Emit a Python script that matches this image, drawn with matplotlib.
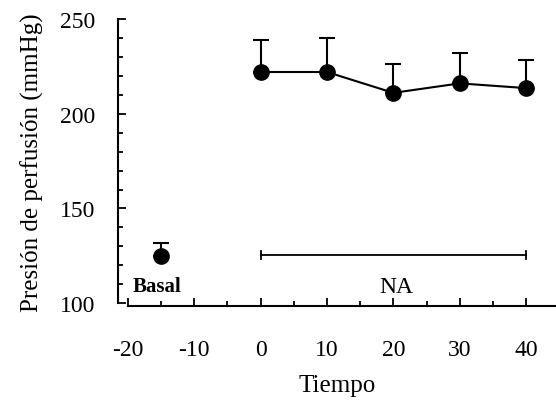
import matplotlib
matplotlib.use("Agg")
import matplotlib.pyplot as plt
from matplotlib.ticker import MultipleLocator

plt.rcParams['font.family'] = ['Liberation Serif', 'DejaVu Serif']
plt.rcParams['axes.unicode_minus'] = False

# datos
basal_t = [-15]
basal_p = [125]
basal_err = [7]

na_t = [0, 10, 20, 30, 40]
na_p = [222, 222, 211, 216, 213.5]
na_err = [17, 18, 15, 16, 15]

na_bar_y = 125.5

fig = plt.figure(figsize=(5.56, 4.1), dpi=100)
ax = fig.add_axes([0.212, 0.251, 0.788, 0.705])

ax.errorbar(basal_t, basal_p, yerr=[[0] * len(basal_err), basal_err],
            fmt='o', color='black', ms=11, elinewidth=1.5, capsize=6, capthick=1.5)
ax.errorbar(na_t, na_p, yerr=[[0] * len(na_err), na_err],
            fmt='-o', color='black', ms=11, lw=1.5, elinewidth=1.5, capsize=6, capthick=1.5)

# barra de NA
ax.plot([na_t[0], na_t[-1]], [na_bar_y, na_bar_y], color='black', lw=1.3)
ax.plot([na_t[0], na_t[0]], [na_bar_y - 2.2, na_bar_y + 2.2], color='black', lw=1.3)
ax.plot([na_t[-1], na_t[-1]], [na_bar_y - 2.2, na_bar_y + 2.2], color='black', lw=1.3)

ax.text(-15.6, 109, 'Basal', ha='center', va='center', fontsize=15, fontweight='bold')
ax.text(20.4, 109, 'NA', ha='center', va='center', fontsize=17)

ax.set_xlim(-21.5, 44.5)
ax.set_ylim(98.5, 251)
ax.spines['top'].set_visible(False)
ax.spines['right'].set_visible(False)
ax.spines['left'].set_bounds(100, 250)
ax.spines['bottom'].set_bounds(-20, 44.5)
ax.spines['left'].set_linewidth(1.5)
ax.spines['bottom'].set_linewidth(1.5)

ax.set_xticks([-20, -10, 0, 10, 20, 30, 40])
ax.xaxis.set_minor_locator(MultipleLocator(5))
ax.set_yticks([100, 150, 200, 250])
ax.yaxis.set_minor_locator(MultipleLocator(10))
ax.tick_params(which='both', direction='in', width=1.3, labelsize=17)
ax.tick_params(which='major', length=6)
ax.tick_params(which='minor', length=3.5)
ax.tick_params(axis='x', pad=24)
ax.tick_params(axis='y', pad=16)

ax.set_xlabel('Tiempo', fontsize=18, labelpad=10)
ax.set_ylabel('Presión de perfusión (mmHg)', fontsize=18, labelpad=12)

fig.savefig('out.png', dpi=100)
